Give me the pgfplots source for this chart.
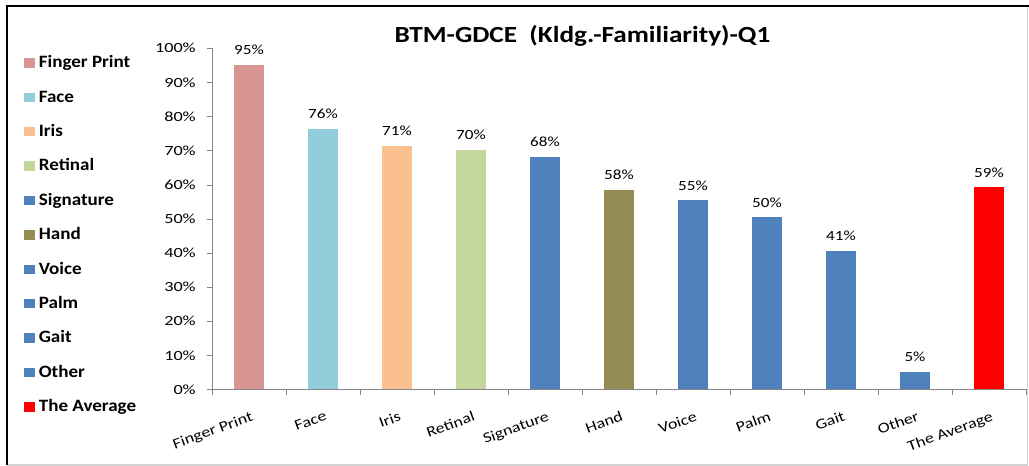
\documentclass[border=0pt]{standalone}
\usepackage{fontspec}
\setmainfont{Carlito}
\newfontfamily\tickfont{Carlito}[FakeStretch=1.3]
\newfontfamily\xfont{Carlito}[FakeStretch=1.22]
\newfontfamily\labfont{Carlito}[FakeStretch=1.22]
\newfontfamily\titlefont{Carlito}[FakeStretch=1.18]
\newfontfamily\legfont{Carlito}[FakeStretch=1.1]
\usepackage{pgfplots}
\pgfplotsset{compat=1.18}
\definecolor{cFP}{HTML}{D99594}
\definecolor{cFace}{HTML}{92CDDC}
\definecolor{cIris}{HTML}{FAC090}
\definecolor{cRet}{HTML}{C3D69B}
\definecolor{cBlue}{HTML}{4F81BD}
\definecolor{cHand}{HTML}{948A54}
\definecolor{cAvg}{HTML}{FF0000}
\definecolor{axgray}{HTML}{868686}
\begin{document}
\begin{tikzpicture}
\path[use as bounding box] (0pt,0pt) rectangle (771.75pt,349.5pt);
\draw[gray!35, line width=0.9pt] (5.25pt,0.75pt) -- (770.4pt,0.75pt) -- (770.4pt,345pt);
\draw[black, line width=1.5pt] (5.25pt,0.75pt) -- (5.25pt,345pt) -- (771.75pt,345pt);
\node[font=\titlefont\bfseries\fontsize{17.3}{20}\selectfont] at (436.9pt,322.5pt) {BTM-GDCE\ \ (Kldg.-Familiarity)-Q1};
\begin{axis}[
  at={(159pt,57.4pt)}, anchor=south west,
  scale only axis, width=610.5pt, height=255.9pt,
  xmin=-0.5, xmax=10.5, ymin=0, ymax=100,
  ybar, bar width=23pt,
  axis lines*=left,
  axis line style={draw=axgray},
  tick align=outside, major tick length=4pt,
  tick style={draw=axgray},
  xtick={0,...,10},
  xticklabels={Finger Print,Face,Iris,Retinal,Signature,Hand,Voice,Palm,Gait,Other,The Average},
  major x tick style={draw=none},
  extra x ticks={-0.5,0.5,...,10.5},
  extra x tick labels={},
  extra x tick style={major x tick style={draw=axgray}},
  ytick={0,10,...,100},
  yticklabel={\pgfmathprintnumber{\tick}\%},
  /pgf/number format/assume math mode=true,
  xticklabel style={rotate=20, anchor=north east, inner sep=0pt, font=\xfont\fontsize{11}{13}\selectfont, yshift=-11.5pt, xshift=-3pt},
  yticklabel style={font=\tickfont\fontsize{10.5}{12}\selectfont, inner sep=0pt, xshift=-8pt},
  nodes near coords={\pgfmathprintnumber[fixed,precision=0]{\pgfplotspointmeta}\%},
  every node near coord/.append style={font=\labfont\fontsize{10.5}{12}\selectfont, inner sep=0pt, yshift=7.5pt, black},
  legend image code/.code={\fill[#1] (0pt,0pt) rectangle (8pt,7pt);},
  legend style={at={(-0.236,0.987)}, anchor=north west, draw=none, fill=none,
    font=\legfont\bfseries\fontsize{13}{15}\selectfont, row sep=13.8pt,
    nodes={inner sep=0pt, text height=9pt, text depth=3pt, anchor=base west},
    /tikz/every odd column/.style={column sep=3pt}},
  legend cell align=left,
]
\addplot[fill=cFP, draw=none, bar shift=0pt] coordinates {(0,95.2)};
\addlegendentry{Finger Print}
\addplot[fill=cFace, draw=none, bar shift=0pt] coordinates {(1,76.3)};
\addlegendentry{Face}
\addplot[fill=cIris, draw=none, bar shift=0pt] coordinates {(2,71.3)};
\addlegendentry{Iris}
\addplot[fill=cRet, draw=none, bar shift=0pt] coordinates {(3,70.3)};
\addlegendentry{Retinal}
\addplot[fill=cBlue, draw=none, bar shift=0pt] coordinates {(4,68.2)};
\addlegendentry{Signature}
\addplot[fill=cHand, draw=none, bar shift=0pt] coordinates {(5,58.4)};
\addlegendentry{Hand}
\addplot[fill=cBlue, draw=none, bar shift=0pt] coordinates {(6,55.4)};
\addlegendentry{Voice}
\addplot[fill=cBlue, draw=none, bar shift=0pt] coordinates {(7,50.4)};
\addlegendentry{Palm}
\addplot[fill=cBlue, draw=none, bar shift=0pt] coordinates {(8,40.7)};
\addlegendentry{Gait}
\addplot[fill=cBlue, draw=none, bar shift=0pt] coordinates {(9,5.1)};
\addlegendentry{Other}
\addplot[fill=cAvg, draw=none, bar shift=0pt] coordinates {(10,59.2)};
\addlegendentry{The Average}
\end{axis}
\end{tikzpicture}
\end{document}
